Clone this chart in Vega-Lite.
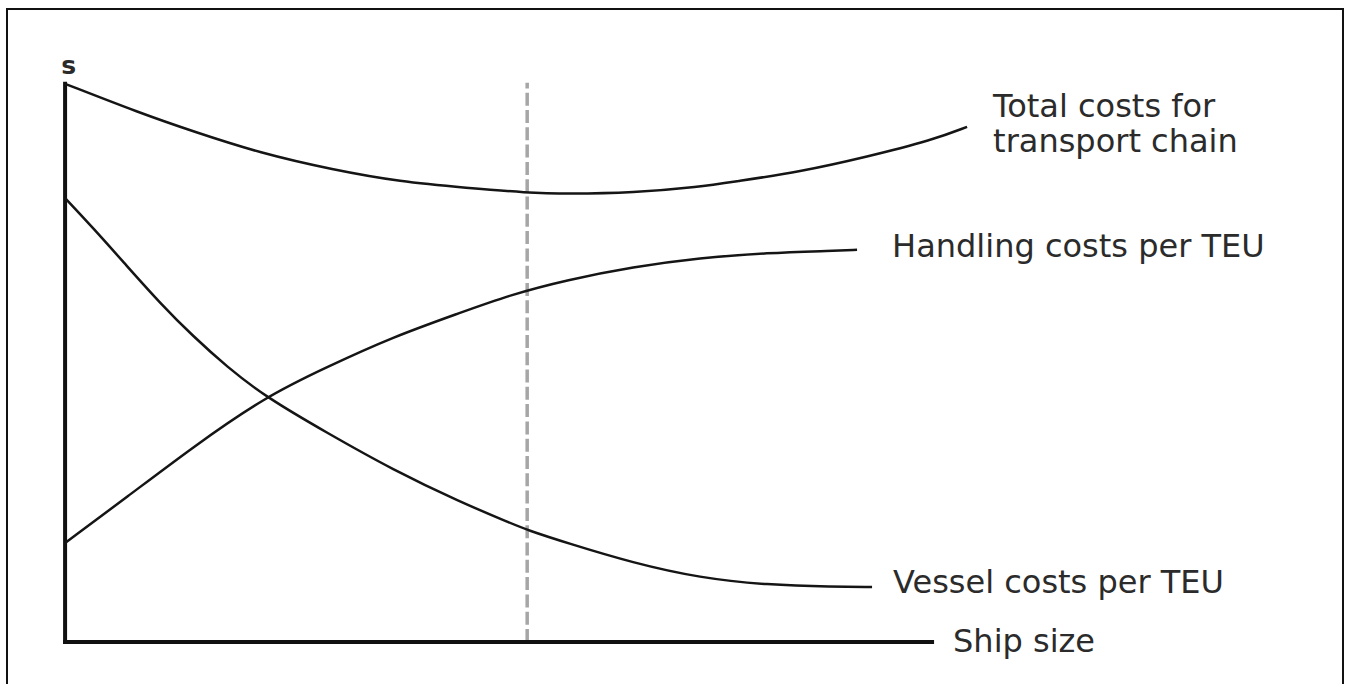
{
  "$schema": "https://vega.github.io/schema/vega-lite/v6.json",
  "width": 1336,
  "height": 681,
  "autosize": {"type": "none"},
  "padding": {"left": 7, "top": 9, "right": 8, "bottom": 0},
  "background": "white",
  "config": {
    "view": {"stroke": "#111111", "strokeWidth": 2},
    "text": {"font": "DejaVu Sans", "fontSize": 32, "color": "#2b2b2b"}
  },
  "datasets": {
    "curves": [
      {"series": "Total", "size": 0, "cost": 100},
      {"series": "Total", "size": 8.65, "cost": 94.75},
      {"series": "Total", "size": 14.8, "cost": 91.45},
      {"series": "Total", "size": 22.49, "cost": 87.58},
      {"series": "Total", "size": 30.91, "cost": 84.59},
      {"series": "Total", "size": 38.64, "cost": 82.44},
      {"series": "Total", "size": 46.37, "cost": 81.36},
      {"series": "Total", "size": 53.29, "cost": 80.47},
      {"series": "Total", "size": 57.9, "cost": 80.29},
      {"series": "Total", "size": 65.51, "cost": 80.47},
      {"series": "Total", "size": 73.24, "cost": 81.54},
      {"series": "Total", "size": 77.05, "cost": 82.44},
      {"series": "Total", "size": 84.78, "cost": 84.23},
      {"series": "Total", "size": 92.5, "cost": 86.92},
      {"series": "Total", "size": 100.12, "cost": 89.96},
      {"series": "Total", "size": 104.04, "cost": 92.29},
      {"series": "Handling", "size": 0, "cost": 17.74},
      {"series": "Handling", "size": 7.15, "cost": 25.99},
      {"series": "Handling", "size": 14.76, "cost": 34.95},
      {"series": "Handling", "size": 23.07, "cost": 43.91},
      {"series": "Handling", "size": 30.22, "cost": 49.28},
      {"series": "Handling", "size": 37.83, "cost": 54.66},
      {"series": "Handling", "size": 45.56, "cost": 58.96},
      {"series": "Handling", "size": 51.33, "cost": 62.19},
      {"series": "Handling", "size": 57.9, "cost": 64.87},
      {"series": "Handling", "size": 65.51, "cost": 67.2},
      {"series": "Handling", "size": 73.24, "cost": 68.82},
      {"series": "Handling", "size": 80.97, "cost": 69.71},
      {"series": "Handling", "size": 88.58, "cost": 70.07},
      {"series": "Handling", "size": 91.35, "cost": 70.25},
      {"series": "Vessel", "size": 0, "cost": 79.52},
      {"series": "Vessel", "size": 3.25, "cost": 74.14},
      {"series": "Vessel", "size": 7.12, "cost": 67.38},
      {"series": "Vessel", "size": 10.96, "cost": 60.7},
      {"series": "Vessel", "size": 14.8, "cost": 54.71},
      {"series": "Vessel", "size": 18.65, "cost": 49.34},
      {"series": "Vessel", "size": 23.07, "cost": 43.96},
      {"series": "Vessel", "size": 30.22, "cost": 37.46},
      {"series": "Vessel", "size": 37.83, "cost": 30.82},
      {"series": "Vessel", "size": 45.56, "cost": 25.09},
      {"series": "Vessel", "size": 51.33, "cost": 21.33},
      {"series": "Vessel", "size": 53.29, "cost": 20.07},
      {"series": "Vessel", "size": 57.9, "cost": 17.74},
      {"series": "Vessel", "size": 65.51, "cost": 14.16},
      {"series": "Vessel", "size": 73.24, "cost": 11.47},
      {"series": "Vessel", "size": 80.97, "cost": 10.22},
      {"series": "Vessel", "size": 88.58, "cost": 9.86},
      {"series": "Vessel", "size": 93.08, "cost": 9.86}
    ],
    "axes": [
      {"name": "cost axis", "x1": 0, "y1": 0, "x2": 0, "y2": 100},
      {"name": "size axis", "x1": 0, "y1": 0, "x2": 100, "y2": 0}
    ],
    "marker": [
      {"name": "optimum", "x1": 53.3, "y1": 0, "x2": 53.3, "y2": 100.2}
    ],
    "labels": [
      {"label": "Total costs for", "size": 107.04, "cost": 94.09},
      {"label": "transport chain", "size": 107.04, "cost": 87.81},
      {"label": "Handling costs per TEU", "size": 95.39, "cost": 69.0},
      {"label": "Vessel costs per TEU", "size": 95.5, "cost": 8.78},
      {"label": "Ship size", "size": 102.42, "cost": -1.79}
    ],
    "ylabel": [
      {"label": "s", "size": -0.45, "cost": 101.79}
    ]
  },
  "layer": [
    {
      "data": {"name": "marker"},
      "mark": {"type": "rule", "color": "#a6a6a6", "strokeWidth": 3.5, "strokeDash": [13, 4.3]},
      "encoding": {
        "x": {"field": "x1", "type": "quantitative", "scale": {"domain": [-6.7, 147.4], "nice": false, "zero": false}, "axis": null},
        "y": {"field": "y1", "type": "quantitative", "scale": {"domain": [-8.6, 113.4], "nice": false, "zero": false}, "axis": null},
        "x2": {"field": "x2"},
        "y2": {"field": "y2"}
      }
    },
    {
      "data": {"name": "axes"},
      "mark": {"type": "rule", "color": "#111111", "strokeWidth": 4, "strokeCap": "square"},
      "encoding": {
        "x": {"field": "x1", "type": "quantitative"},
        "y": {"field": "y1", "type": "quantitative"},
        "x2": {"field": "x2"},
        "y2": {"field": "y2"}
      }
    },
    {
      "data": {"name": "curves"},
      "mark": {"type": "line", "color": "#151515", "strokeWidth": 2.5, "interpolate": "basis"},
      "encoding": {
        "x": {"field": "size", "type": "quantitative"},
        "y": {"field": "cost", "type": "quantitative"},
        "detail": {"field": "series"}
      }
    },
    {
      "data": {"name": "labels"},
      "mark": {"type": "text", "align": "left", "baseline": "alphabetic"},
      "encoding": {
        "x": {"field": "size", "type": "quantitative"},
        "y": {"field": "cost", "type": "quantitative"},
        "text": {"field": "label"}
      }
    },
    {
      "data": {"name": "ylabel"},
      "mark": {"type": "text", "align": "left", "baseline": "alphabetic", "fontSize": 25, "fontWeight": "bold"},
      "encoding": {
        "x": {"field": "size", "type": "quantitative"},
        "y": {"field": "cost", "type": "quantitative"},
        "text": {"field": "label"}
      }
    }
  ]
}
